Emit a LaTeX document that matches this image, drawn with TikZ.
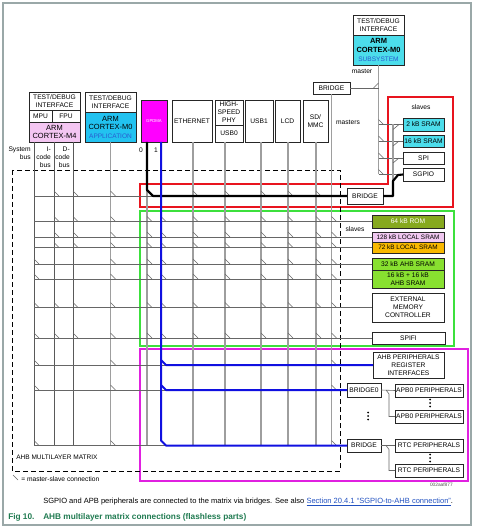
\documentclass[tikz,border=0pt]{standalone}
\usepackage{fontspec}
\setmainfont{Liberation Sans}
\usetikzlibrary{calc}
\definecolor{framegray}{HTML}{9AA8A8}
\definecolor{pinkm}{HTML}{F4C6F2}
\definecolor{cyanapp}{HTML}{22C2F0}
\definecolor{cyansub}{HTML}{4CDDEB}
\definecolor{magbox}{HTML}{FF00FF}
\definecolor{olive}{HTML}{86A91E}
\definecolor{lpink}{HTML}{F0C8F0}
\definecolor{lorange}{HTML}{F8B800}
\definecolor{lgreen}{HTML}{88E030}
\definecolor{redbox}{HTML}{E8141E}
\definecolor{greenbox}{HTML}{3CE03C}
\definecolor{magline}{HTML}{E020E0}
\definecolor{blueline}{HTML}{1010E0}
\definecolor{subtxt}{HTML}{2A5AD0}
\definecolor{figgreen}{HTML}{1F7A50}
\definecolor{linkblue}{HTML}{2050C0}
\newcommand\mybox[7]{\node[#6, minimum width={(#4-#2)*0.75pt}, minimum height={(#5-#3)*0.75pt}] (#1) at ({(#2+#4)/2},{(#3+#5)/2}) {#7};}
\newcommand\cmark[2]{\draw[cmk] (#1 |- #2.west) ++(0,-5) -- ++(5,5);}
\newcommand\vdotsat[2]{\foreach \dd in {-3.5,0,3.5} \fill (#1,#2+\dd) circle (0.75pt);}
\begin{document}
\begin{tikzpicture}[x=0.75pt,y=-0.75pt,
  box/.style={draw=black!85, line width=0.7pt, inner sep=0pt, outer sep=0pt, align=center, font=\fontsize{5}{6}\selectfont},
  lbl/.style={inner sep=0pt, align=center, font=\fontsize{5}{6}\selectfont},
  gcol/.style={draw=black!38, line width=1.1pt},
  m4col/.style={draw=black!65, line width=0.5pt},
  rowl/.style={draw=black!60, line width=0.45pt},
  cmk/.style={draw=black!60, line width=0.45pt},
  blk/.style={draw=black, line width=1.6pt, line join=round},
  blu/.style={draw=blueline, line width=1.5pt, line join=round}]
\useasboundingbox (0,0) rectangle (476,530);
\draw[framegray, line width=0.8pt] (3,3) rectangle (471,525);

% coloured region boxes
\draw[redbox, line width=1.1pt] (140,184) -- (388,184) -- (388,97) -- (453,97) -- (453,207) -- (140,207) -- cycle;
\draw[greenbox, line width=1.1pt] (140,211) rectangle (454,346);
\draw[magline, line width=1.1pt] (140,349) rectangle (468,481);
\draw[black, line width=0.6pt, dash pattern=on 3.5pt off 2.5pt] (12,170) rectangle (340,471);

% masters
\mybox{m4dbg}{29}{92}{80}{110}{box}{TEST/DEBUG\\INTERFACE}
\mybox{mpu}{29}{110}{52}{122}{box}{MPU}
\mybox{fpu}{52}{110}{80}{122}{box}{FPU}
\mybox{m4}{29}{122}{80}{142}{box, fill=pinkm, font=\fontsize{5.6}{6.6}\selectfont}{ARM\\CORTEX-M4}
\mybox{m0dbg}{85}{92}{136}{112}{box}{TEST/DEBUG\\INTERFACE}
\mybox{m0app}{85}{112}{136}{142}{box, fill=cyanapp, font=\fontsize{5.6}{6.4}\selectfont}{ARM\\CORTEX-M0\\{\fontsize{4.9}{6}\selectfont\color{subtxt}APPLICATION}}
\mybox{gpdma}{141}{100}{167}{142}{box, fill=magbox, text=white, font=\fontsize{3.2}{4}\selectfont}{GPDMA}
\mybox{eth}{172}{100}{212}{142}{box}{ETHERNET}
\mybox{phy}{215}{100}{243}{125}{box}{HIGH-\\SPEED\\PHY}
\mybox{usb0}{215}{125}{243}{142}{box}{USB0}
\mybox{usb1}{245}{100}{273}{142}{box}{USB1}
\mybox{lcd}{275}{100}{300}{142}{box}{LCD}
\mybox{sdmmc}{303}{100}{328}{142}{box}{SD/\\MMC}

% M0 subsystem
\mybox{m0sdbg}{353}{15}{404}{35}{box}{TEST/DEBUG\\INTERFACE}
\mybox{m0sub}{353}{35}{404}{65}{box, fill=cyansub, font=\fontsize{5.6}{6.4}\selectfont\bfseries}{ARM\\CORTEX-M0\\{\fontsize{4.9}{6}\selectfont\mdseries\color{subtxt}SUBSYSTEM}}
\mybox{bridgeT}{313}{82}{350}{94}{box}{BRIDGE}
\mybox{sram2}{403}{118}{444}{131}{box, fill=cyansub}{2 kB SRAM}
\mybox{sram16}{403}{135}{444}{147}{box, fill=cyansub}{16 kB SRAM}
\mybox{spi}{403}{152}{444}{164}{box}{SPI}
\mybox{sgpio}{403}{168}{444}{181}{box}{SGPIO}
\mybox{bridgeL}{347}{188}{383}{204}{box}{BRIDGE}

% slaves
\mybox{rom}{372}{215}{444}{228}{box, fill=olive, text=white}{64 kB ROM}
\mybox{l128}{372}{232}{444}{242}{box, fill=lpink, font=\fontsize{4.8}{6}\selectfont}{128 kB LOCAL SRAM}
\mybox{l72}{372}{242}{444}{253}{box, fill=lorange, font=\fontsize{4.8}{6}\selectfont}{72 kB LOCAL SRAM}
\mybox{a32}{372}{258}{444}{270}{box, fill=lgreen}{32 kB AHB SRAM}
\mybox{a16}{372}{270}{444}{288}{box, fill=lgreen}{16 kB + 16 kB\\AHB SRAM}
\mybox{emc}{372}{293}{444}{322}{box}{EXTERNAL\\MEMORY\\CONTROLLER}
\mybox{spifi}{372}{332}{445}{344}{box}{SPIFI}
\mybox{ahbp}{373}{352}{444}{378}{box}{AHB PERIPHERALS\\REGISTER\\INTERFACES}
\mybox{br0}{347}{383}{381}{397}{box}{BRIDGE0}
\mybox{apb0a}{395}{384}{463}{397}{box}{APB0 PERIPHERALS}
\mybox{apb0b}{395}{410}{463}{423}{box}{APB0 PERIPHERALS}
\mybox{brr}{347}{439}{381}{452}{box}{BRIDGE}
\mybox{rtca}{395}{439}{463}{452}{box}{RTC PERIPHERALS}
\mybox{rtcb}{395}{464}{463}{477}{box}{RTC PERIPHERALS}

% column coordinates
\coordinate (cSys) at (34,142);
\coordinate (cIc) at (54,142);
\coordinate (cDc) at (73,142);
\coordinate (cApp) at (m0app.south);
\coordinate (cG0) at (147,142);
\coordinate (cG1) at (161,142);
\coordinate (cEth) at (193,142);
\coordinate (cU0) at (225,142);
\coordinate (cU1) at (261,142);
\coordinate (cLcd) at (288,142);
\coordinate (cSd) at (316,142);
\coordinate (cBr) at (bridgeT.south);
\coordinate (cSub) at (m0sub.south);
\coordinate (cB2) at ($(bridgeL.east)+(10,0)$);

% vertical master lines
\foreach \c in {cApp,cG0,cEth,cU0,cU1,cLcd,cSd,cBr}
  \draw[gcol] (\c) -- (\c |- brr.west);
\foreach \c in {cSys,cIc,cDc}
  \draw[m4col] (\c) -- (\c |- brr.west);

% horizontal slave rows
\foreach \r in {bridgeL,rom,l128,l72,a32,a16,emc,spifi,ahbp,br0,brr}
  \draw[rowl] (cSys |- \r.west) -- (\r.west);

% connection marks
\foreach \r in {a32,a16,emc,spifi,ahbp,br0,brr} {\cmark{cSys}{\r}}
\foreach \c in {cIc,cDc} \foreach \r in {bridgeL,rom,l128,l72,emc,spifi} {\cmark{\c}{\r}}
\foreach \r in {bridgeL,rom,l128,l72,a32,a16,emc,spifi,ahbp,br0,brr} {\cmark{cApp}{\r}}
\foreach \c in {cG0,cG1} \foreach \r in {rom,l128,l72,a32,a16,emc,spifi} {\cmark{\c}{\r}}
\foreach \c in {cEth,cU0,cU1,cLcd,cSd} \foreach \r in {bridgeL,rom,l128,l72,a32,a16,emc,spifi} {\cmark{\c}{\r}}
\foreach \r in {rom,l128,l72,a32,a16,emc,spifi,ahbp,br0,brr} {\cmark{cBr}{\r}}

% M0 subsystem matrix
\draw[gcol, line width=0.8pt] (cSub) -- (cSub |- sgpio.west);
\draw[rowl] (bridgeT.east) -- (bridgeT.east -| cSub);
\draw[cmk] (bridgeT.east -| cSub) ++(-5,0) -- ++(5,-5);
\foreach \r in {sram2,sram16,spi,sgpio} {\draw[rowl] (cSub |- \r.west) -- (\r.west); \cmark{cSub}{\r}}
\draw[gcol, line width=0.8pt] (cB2 |- sram2.west) -- ($(cB2)+(0,-15)$);
\foreach \r in {sram2,sram16,spi} {\draw[cmk] (cB2 |- \r.west) ++(0,5) -- ++(6,-5);}

% highlighted paths
\draw[blk] (cG0) -- ($(cG0 |- bridgeL.west)+(0,-6)$) -- ++(6,6) -- (bridgeL.west);
\draw[blk] (bridgeL.east) -- (cB2) -- ++(0,-15) -- ++(5,-6) -- (sgpio.west);
\draw[blu] (cG1) -- ($(cG1 |- brr.west)+(0,-5)$) -- ++(5,5) -- (brr.west);
\draw[blu] ($(cG1 |- ahbp.west)+(0,-5)$) -- ++(5,5) -- (ahbp.west);
\draw[blu] ($(cG1 |- br0.west)+(0,-5)$) -- ++(5,5) -- (br0.west);

% APB trees
\draw[rowl] (br0.east) -- (apb0a.west);
\draw[rowl] ($(br0.east)+(5,0)$) -- ++(3,4) -- ($(apb0b.west)+(-6,0)$) -- (apb0b.west);
\draw[rowl] (brr.east) -- (rtca.west);
\draw[rowl] ($(brr.east)+(5,0)$) -- ++(3,4) -- ($(rtcb.west)+(-6,0)$) -- (rtcb.west);
\vdotsat{430}{403}
\vdotsat{368}{416}
\vdotsat{430}{458}

% labels
\node[lbl] (tmaster) at (362,71) {master};
\node[lbl] (tmasters) at (348,122) {masters};
\node[lbl] (tslaves1) at (421,107) {slaves};
\node[lbl] (tslaves2) at (355,229) {slaves};
\node[lbl, anchor=north east, align=right] (tsys) at (31,147) {System\\bus};
\node[lbl, anchor=north east, align=right] (tic) at (51,147) {I-\\code\\bus};
\node[lbl, anchor=north east, align=right] (tdc) at (70,147) {D-\\code\\bus};
\node[lbl] (t0) at (141,150) {0};
\node[lbl] (t1) at (156,150) {1};
\node[lbl, anchor=west, font=\fontsize{4.9}{6}\selectfont] (tmatrix) at (16,457) {AHB MULTILAYER MATRIX};
\draw[cmk] (13,475) -- (18,480);
\node[lbl, anchor=west] (tlegend) at (21,479) {= master-slave connection};
\node[lbl, anchor=east, font=\fontsize{3.6}{4}\selectfont, text=black!70] (tid) at (453,485) {002aaf877};
\node[lbl, anchor=west, font=\fontsize{5.65}{6}\selectfont] (tcap) at (43,502) {SGPIO and APB peripherals are connected to the matrix via bridges. See also \textcolor{linkblue}{\underline{Section 20.4.1 “SGPIO-to-AHB connection”}}.};
\node[lbl, anchor=west, font=\fontsize{6.2}{7}\bfseries\selectfont, text=figgreen] (tfig) at (8,517) {Fig 10.};
\node[lbl, anchor=west, font=\fontsize{6.2}{7}\bfseries\selectfont, text=figgreen] (tfig2) at (43,517) {AHB multilayer matrix connections (flashless parts)};
\end{tikzpicture}
\end{document}
